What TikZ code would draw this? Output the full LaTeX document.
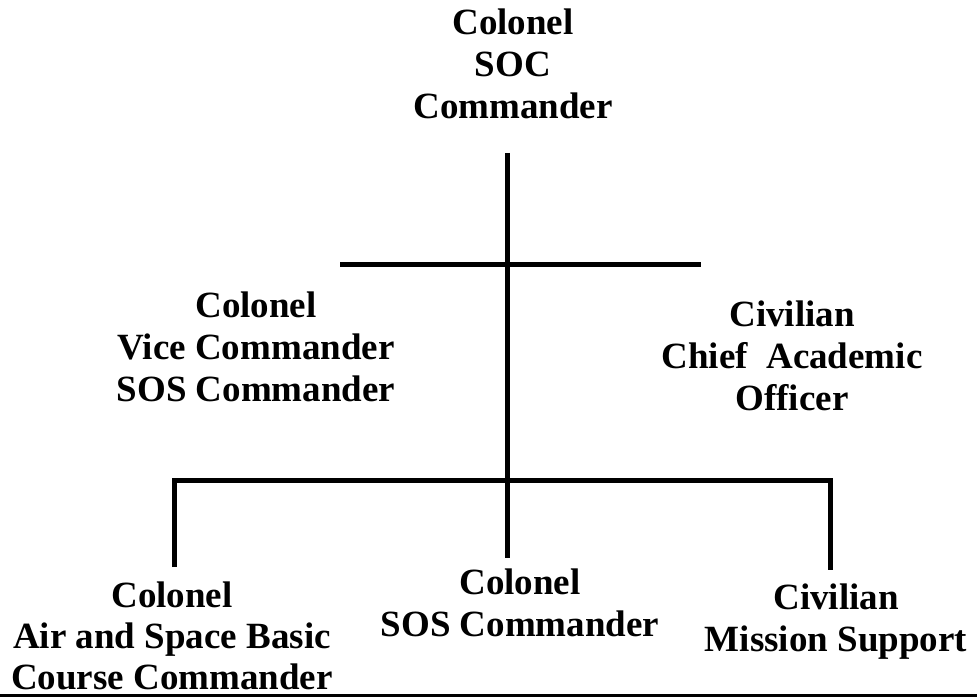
\documentclass[tikz,border=0pt]{standalone}
\usepackage{fontspec}
\setmainfont{Liberation Serif}
\begin{document}
\begin{tikzpicture}[x=1pt,y=-1pt,
  lbl/.style={align=center,inner sep=0pt,font=\bfseries\fontsize{37}{42}\selectfont},
  link/.style={line width=5pt,line cap=butt}]
\useasboundingbox[fill=white] (0,0) rectangle (977,698);
% text nodes
\node[lbl] (soc) at (513,64) {Colonel\\SOC\\Commander};
\node[lbl] (vc) at (256,347) {Colonel\\Vice Commander\\SOS Commander};
\node[lbl] (cao) at (792,356) {Civilian\\Chief\ \ Academic\\Officer};
\node[lbl,font=\bfseries\fontsize{37}{41}\selectfont] (asbc) at (172,636) {Colonel\\Air and Space Basic\\Course Commander};
\node[lbl] (sos) at (520,603) {Colonel\\SOS Commander};
\node[lbl] (ms) at (836,622) {Civilian\\Mission Support};
% junction points
\coordinate (ctop) at (507,153);
\coordinate (cbot) at (507,558);
\coordinate (sl) at (340,264);
\coordinate (sr) at (701,264);
\coordinate (bl) at (174,480);
\coordinate (br) at (830,480);
\coordinate (blb) at (174,567);
\coordinate (brb) at (830,570);
% connectors
\draw[link] (ctop) -- (cbot);
\draw[link] (sl) -- (sr);
\draw[link] (blb) -- (bl) -- (br) -- (brb);
% bottom rule
\coordinate (rl) at (0,695);
\coordinate (rr) at (977,695);
\draw[line width=3pt] (rl) -- (rr);
\end{tikzpicture}
\end{document}
